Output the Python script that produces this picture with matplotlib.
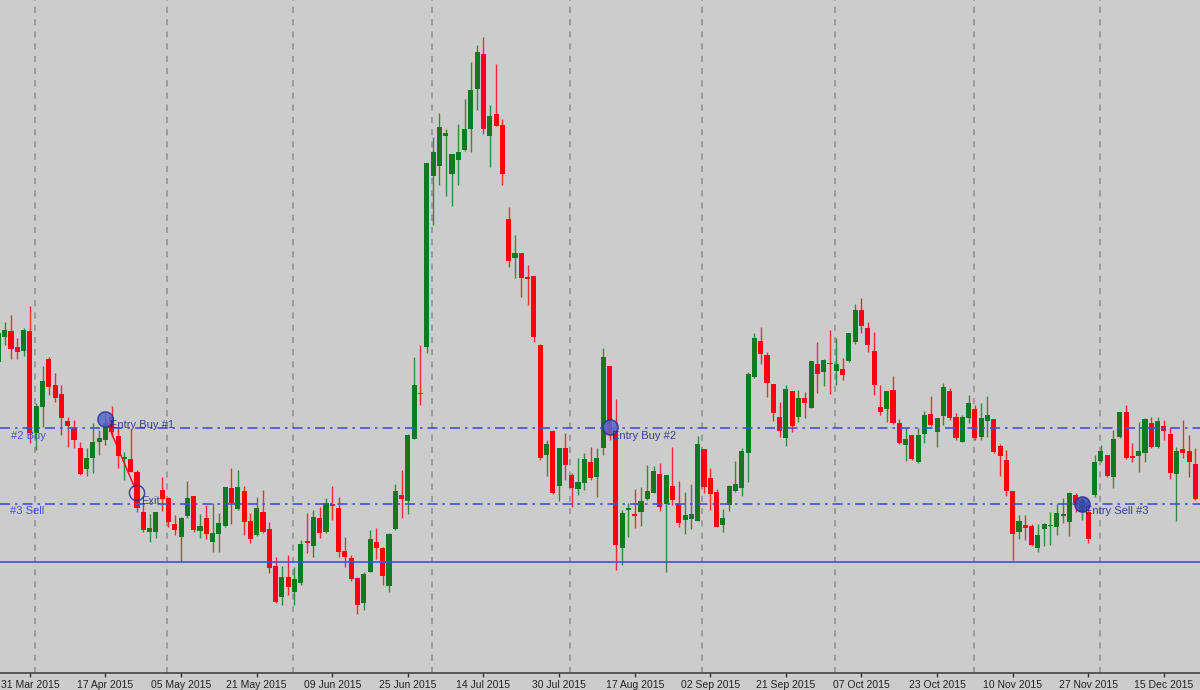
import numpy as np
import matplotlib
matplotlib.use("Agg")
import matplotlib.pyplot as plt

opens = [328,353,359,343,339,359,257,283,331,305,296,269,262,242,221,232,248,250,273,254,231,231,218,178,158,158,200,192,166,153,174,194,159,172,148,156,164,202,181,199,169,155,178,161,124,93,113,98,107,
149,144,172,158,186,182,139,132,112,87,118,148,142,104,161,195,189,251,297,343,514,524,554,516,530,540,561,601,636,554,576,565,471,432,437,413,414,345,235,259,204,242,215,201,207,228,213,242,324,260,142,180,176,178,191,197,216,186,204,186,170,171,169,241,212,198,165,185,199,202,237,313,349,335,306,273,252,299,273,292,282,326,318,327,319,321,329,348,380,362,339,283,281,300,267,245,255,228,256,276,258,274,299,273,248,272,281,253,269,271,244,230,199,158,165,164,142,161,164,163,174,168,195,178,178,195,229,235,213,253,278,234,234,237,267,243,264,256,216,241,239,226]
closes = [357,360,341,338,360,257,284,309,303,292,272,264,250,216,232,248,252,267,258,234,233,218,182,160,162,178,191,168,160,172,192,160,164,156,157,167,203,187,203,168,151,182,158,122,88,113,103,111,146,
147,173,157,187,184,138,133,111,85,116,151,142,114,156,199,191,255,305,296,527,538,563,557,536,538,561,600,638,561,574,564,516,429,437,412,411,353,232,246,197,242,225,202,208,231,212,232,333,255,145,177,182,174,189,199,219,183,215,190,167,175,176,246,203,196,163,172,204,206,239,316,352,336,307,277,259,301,264,292,287,329,316,330,326,326,315,357,380,364,345,305,278,299,267,247,251,231,255,275,265,272,303,272,252,273,287,252,272,275,238,234,199,156,169,162,145,155,166,165,177,176,197,185,190,151,228,239,214,251,278,232,232,239,271,243,269,259,217,239,237,228,191]
highs = [363,368,375,352,362,384,287,324,333,317,305,273,270,248,242,267,260,277,284,263,238,261,220,187,176,178,213,193,175,173,209,194,176,185,187,177,203,222,220,204,177,193,200,168,133,124,135,123,150,
177,180,183,192,204,193,153,135,113,118,160,162,143,157,206,220,256,333,345,527,553,577,561,536,566,591,628,645,653,585,626,571,483,455,437,425,414,346,250,260,242,257,217,232,237,243,242,342,324,291,180,187,201,203,225,224,227,215,243,209,198,206,254,241,222,201,181,205,229,242,318,357,363,338,306,288,305,299,300,298,329,348,331,360,352,332,357,386,392,368,358,305,299,314,271,262,255,262,279,294,272,307,302,277,275,295,285,287,294,271,246,240,199,175,175,166,166,167,178,186,192,198,197,192,187,235,245,235,260,278,285,247,268,272,273,273,270,262,243,270,255,242]
lows = [320,345,331,331,334,247,240,263,295,288,255,243,242,215,214,217,235,245,253,222,210,218,178,158,148,152,179,163,155,128,172,158,152,151,138,138,163,166,180,155,147,154,157,117,87,85,95,85,105,
137,133,152,157,170,133,123,109,76,80,118,131,105,98,160,172,176,251,285,337,465,505,494,484,505,539,538,580,556,523,564,505,423,412,393,385,348,230,214,196,189,210,183,195,200,210,193,235,250,120,125,153,162,164,190,197,179,118,185,163,156,161,169,197,180,163,158,179,198,194,208,312,326,293,269,253,244,258,268,272,282,297,304,296,305,310,328,346,357,338,295,275,268,266,246,229,230,227,247,264,243,265,270,250,248,267,250,250,253,237,214,194,130,151,150,144,138,144,145,155,167,154,178,170,147,193,228,213,202,252,231,228,218,228,242,242,250,211,169,232,213,190]

tick_labels = ["31 Mar 2015","17 Apr 2015","05 May 2015","21 May 2015","09 Jun 2015","25 Jun 2015",
               "14 Jul 2015","30 Jul 2015","17 Aug 2015","02 Sep 2015","21 Sep 2015","07 Oct 2015",
               "23 Oct 2015","10 Nov 2015","27 Nov 2015","15 Dec 2015"]
tick_bars = list(range(4, 185, 12))
separators = [4.8, 25.8, 45.8, 67.75, 89.8, 110.7, 131.8, 153.9, 173.9]

buy_level = 262
sell_level = 186
support_level = 128
trade_bars = [16, 21, 96, 171]
trade_levels = [271, 197, 263, 186]
trade_names = ["Entry Buy #1", "Exit", "Entry Buy #2", "Entry Sell #3"]

BG = "#cccccc"
UP = "#0f7a1f"
DOWN = "#ff0010"
BLUE = "#3f52d8"
NAVY = "#2a2f8c"

plt.rcParams["font.family"] = ["Liberation Sans", "DejaVu Sans"]
fig = plt.figure(figsize=(12, 6.9), dpi=100, facecolor=BG)
ax = fig.add_axes([0, 17 / 690, 1, 673 / 690], facecolor=BG)

o, c, h, l = map(np.array, (opens, closes, highs, lows))
x = np.arange(len(o)) - 1
colors = [UP if a >= b else DOWN for a, b in zip(c, o)]

for s in separators:
    ax.axvline(s, color="#8e8e8e", lw=1.1, ls=(0, (4, 4)), zorder=1)

ax.vlines(x, l, h, colors=colors, lw=1.0, alpha=0.8, zorder=2)
ax.bar(x, np.abs(c - o), bottom=np.minimum(o, c), width=0.82, color=colors, lw=0, zorder=3)

ax.axhline(buy_level, color=BLUE, lw=1.2, ls=(0, (6, 3, 1.5, 3)), zorder=4)
ax.axhline(sell_level, color=BLUE, lw=1.2, ls=(0, (6, 3, 1.5, 3)), zorder=4)
ax.axhline(support_level, color=BLUE, lw=1.2, zorder=4)

ax.plot(trade_bars[:2], trade_levels[:2], color=DOWN, lw=1, zorder=4)
faces = ["#5a66cc", "none", "#5a66cc", "#3c48b8"]
for b, v, f in zip(trade_bars, trade_levels, faces):
    ax.scatter([b], [v], s=120, facecolor=f, edgecolor="#2c3390", lw=1.1, alpha=0.85, zorder=5)

offsets = [(3, -4.5), (3, -6), (2, -6.5), (2, -5)]
for b, v, n, off in zip(trade_bars, trade_levels, trade_names, offsets):
    ax.annotate(n, (b, v), xytext=off, textcoords="offset points", fontsize=8, color=NAVY,
                va="center", ha="left", alpha=0.9, zorder=6)

ax.annotate("#2 Buy", (0.009, buy_level), xycoords=("axes fraction", "data"), xytext=(0, -6),
            textcoords="offset points", fontsize=8, color=BLUE, va="center", zorder=6)
ax.annotate("#3 Sell", (0.008, sell_level), xycoords=("axes fraction", "data"), xytext=(0, -5),
            textcoords="offset points", fontsize=8, color=BLUE, va="center", zorder=6)

ax.set_xlim(-4.7 / 6.3, (1200 - 4.7) / 6.3)
ax.set_ylim(17, 690)
ax.set_yticks([])
ax.set_xticks(tick_bars)
ax.set_xticklabels(tick_labels, fontsize=7.5, color="#222222")
ax.tick_params(axis="x", length=3, width=1, color="#333333", pad=2)
for side in ("top", "left", "right"):
    ax.spines[side].set_visible(False)
ax.spines["bottom"].set_color("#444444")
ax.spines["bottom"].set_linewidth(1.2)

fig.savefig("out.png", dpi=100, facecolor=BG)
